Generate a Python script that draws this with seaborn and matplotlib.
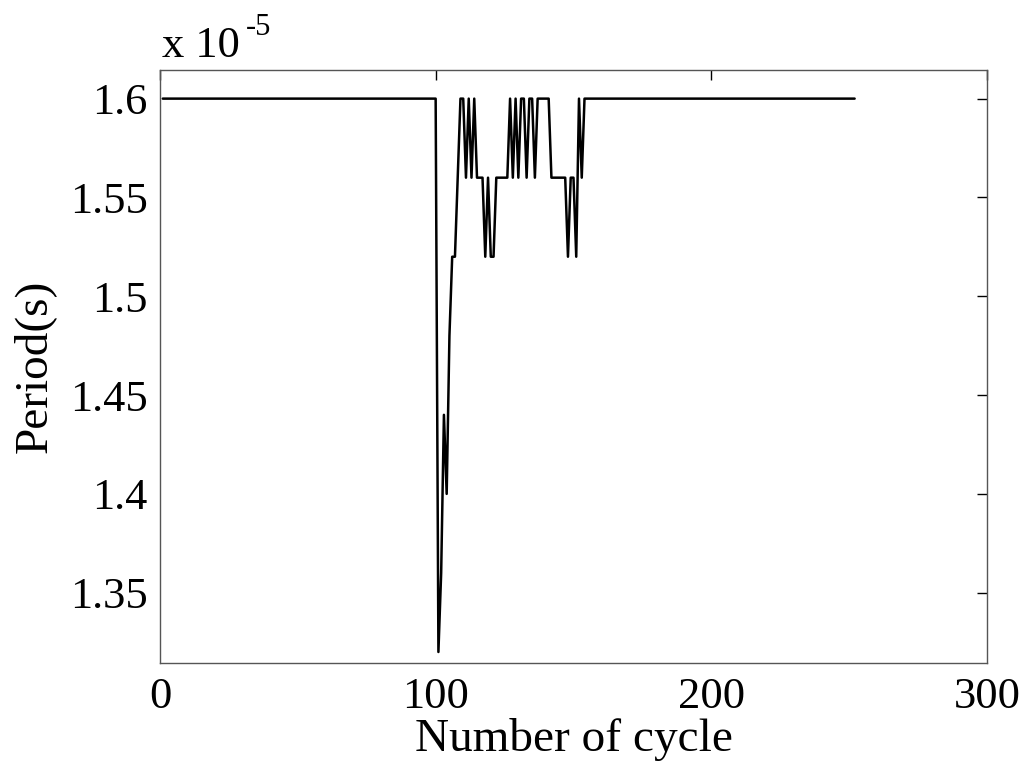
import numpy as np
import pandas as pd
import matplotlib
matplotlib.use("Agg")
import matplotlib.pyplot as plt
from matplotlib.ticker import FuncFormatter
import seaborn as sns

# Period values in units of 1e-5 s
pre_values = [1.60] * 100  # cycles 1..100 steady
transient_values = [
    1.32, 1.36, 1.44, 1.40, 1.48, 1.52, 1.52, 1.56, 1.60, 1.60,   # 101-110
    1.56, 1.60, 1.56, 1.60, 1.56, 1.56, 1.56, 1.52, 1.56, 1.52,   # 111-120
    1.52, 1.56, 1.56, 1.56, 1.56, 1.56, 1.60, 1.56, 1.60, 1.56,   # 121-130
    1.60, 1.60, 1.56, 1.60, 1.60, 1.56, 1.60, 1.60, 1.60, 1.60,   # 131-140
    1.60, 1.56, 1.56, 1.56, 1.56, 1.56, 1.56, 1.52, 1.56, 1.56,   # 141-150
    1.52, 1.60, 1.56, 1.60,                                       # 151-154
]
post_values = [1.60] * 98  # cycles 155..252 steady

period = pre_values + transient_values + post_values
cycles = list(range(1, len(period) + 1))

x_ticks = [0, 100, 200, 300]
y_ticks = [1.35, 1.40, 1.45, 1.50, 1.55, 1.60]

df = pd.DataFrame({"cycle": cycles, "period": period})

sns.set_theme(style="white")
plt.rcParams["font.family"] = ["Liberation Serif", "DejaVu Serif"]

fig = plt.figure(figsize=(10.27, 7.71), dpi=100)
ax = fig.add_axes([0.1558, 0.140, 0.961 - 0.1558, 0.909 - 0.140])

sns.lineplot(data=df, x="cycle", y="period", ax=ax, color="black",
             linewidth=1.8, estimator=None)

ax.set_xlim(0, 300)
ax.set_ylim(1.3144, 1.6144)
ax.set_xticks(x_ticks)
ax.set_yticks(y_ticks)
ax.yaxis.set_major_formatter(FuncFormatter(lambda v, p: f"{v:g}"))
ax.xaxis.set_major_formatter(FuncFormatter(lambda v, p: f"{v:g}"))

ax.tick_params(direction="in", length=7, width=1, top=True, right=True,
               labelsize=32, colors="black", pad=9)
ax.tick_params(axis="x", pad=10)
for s in ax.spines.values():
    s.set_color("#555555")
    s.set_linewidth(1.0)

ax.set_xlabel("Number of cycle", fontsize=34, labelpad=1, color="black")
ax.set_ylabel("Period(s)", fontsize=34, labelpad=10, color="black")

ax.annotate("x 10", xy=(0, 1), xycoords="axes fraction",
            xytext=(2, 4), textcoords="offset pixels",
            fontsize=32, ha="left", va="bottom", color="black")
ax.annotate("-5", xy=(0, 1), xycoords="axes fraction",
            xytext=(86, 28), textcoords="offset pixels",
            fontsize=22, ha="left", va="bottom", color="black")

fig.savefig("out.png", dpi=100, facecolor="white")
